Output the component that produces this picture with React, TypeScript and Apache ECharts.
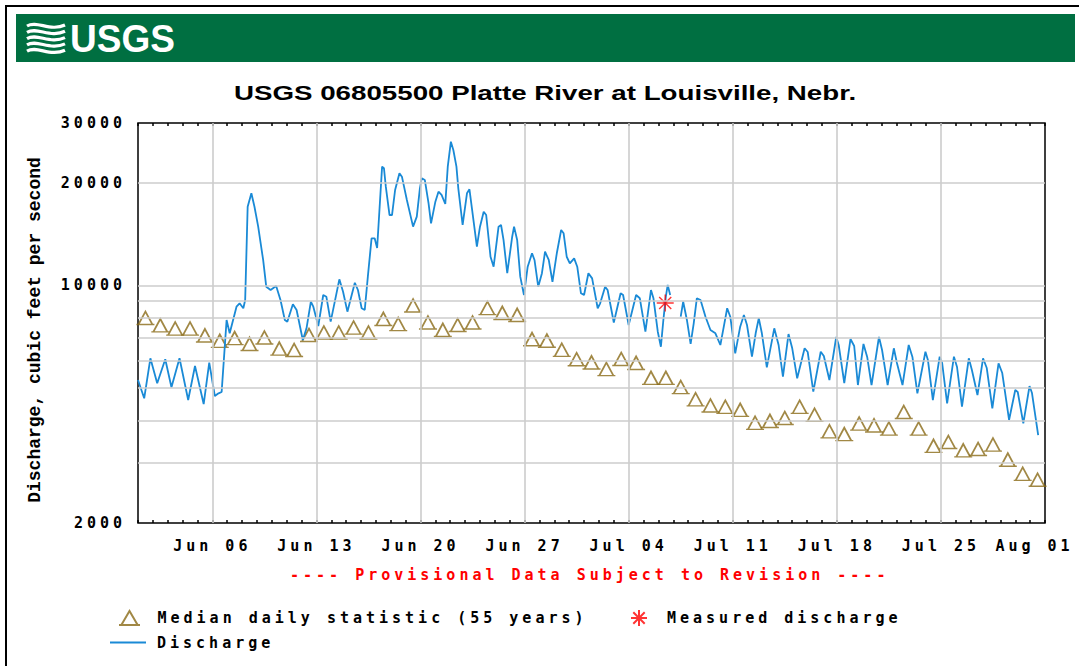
import React, { useEffect, useRef } from 'react';
import * as echarts from 'echarts';

// ---------- data ----------
const titleText = 'USGS 06805500 Platte River at Louisville, Nebr.';
const yAxisTitle = 'Discharge, cubic feet per second';
const provisionalText = '---- Provisional Data Subject to Revision ----';
const yTickLabels = [2000, 10000, 20000, 30000];
const yGridValues = [3000, 4000, 5000, 6000, 7000, 8000, 9000, 10000, 20000];
const weekLabelDays = [5, 12, 19, 26, 33, 40, 47, 54, 61]; // days after Jun 01

// Median daily statistic (55 years), one value per day, Jun 01 .. Jul 31
const medianValues = [
  8010, 7620, 7460, 7460, 7120, 6860, 6990, 6720, 7020, 6510,
  6450, 7140, 7260, 7260, 7510, 7260, 7960, 7690, 8720, 7770,
  7390, 7640, 7770, 8570, 8290, 8180, 6940, 6870, 6460, 6060,
  5930, 5670, 6070, 5910, 5340, 5340, 5020, 4620, 4430, 4390,
  4300, 3940, 3990, 4070, 4390, 4160, 3720, 3650, 3920, 3870,
  3790, 4240, 3790, 3370, 3460, 3270, 3300, 3400, 3070, 2790, 2680,
];

// Measured discharge
const measuredTime = '07-06 11:00';
const measuredValue = 8870;

// Discharge (instantaneous), MM-DD hh:mm
const dischargeTimes = [
  '06-01 00:00', '06-01 10:00', '06-01 20:00', '06-02 07:00', '06-02 20:00', '06-03 06:00', '06-03 19:00', '06-04 09:00',
  '06-04 20:00', '06-05 10:00', '06-05 19:00', '06-06 04:00', '06-06 10:00', '06-06 15:00', '06-06 23:00', '06-07 04:00',
  '06-07 15:00', '06-07 20:00', '06-08 02:00', '06-08 05:00', '06-08 09:00', '06-08 15:00', '06-08 20:00', '06-09 02:00',
  '06-09 10:00', '06-09 15:00', '06-09 22:00', '06-10 07:00', '06-10 14:00', '06-10 21:00', '06-11 01:00', '06-11 10:00',
  '06-11 16:00', '06-12 02:00', '06-12 08:00', '06-12 15:00', '06-12 19:00', '06-13 03:00', '06-13 11:00', '06-13 16:00',
  '06-13 23:00', '06-14 13:00', '06-14 19:00', '06-15 02:00', '06-15 14:00', '06-15 19:00', '06-16 01:00', '06-16 06:00',
  '06-16 11:00', '06-16 17:00', '06-16 22:00', '06-17 02:00', '06-17 10:00', '06-17 13:00', '06-17 16:00', '06-17 22:00',
  '06-18 02:00', '06-18 07:00', '06-18 14:00', '06-18 18:00', '06-19 02:00', '06-19 12:00', '06-19 18:00', '06-19 23:00',
  '06-20 02:00', '06-20 07:00', '06-20 13:00', '06-20 17:00', '06-21 00:00', '06-21 05:00', '06-21 10:00', '06-21 16:00',
  '06-21 20:00', '06-22 01:00', '06-22 05:00', '06-22 10:00', '06-22 13:00', '06-22 20:00', '06-23 03:00', '06-23 07:00',
  '06-23 11:00', '06-23 19:00', '06-24 00:00', '06-24 06:00', '06-24 10:00', '06-24 17:00', '06-24 22:00', '06-25 06:00',
  '06-25 10:00', '06-25 14:00', '06-25 20:00', '06-26 04:00', '06-26 07:00', '06-26 12:00', '06-26 17:00', '06-26 23:00',
  '06-27 05:00', '06-27 12:00', '06-27 16:00', '06-27 22:00', '06-28 04:00', '06-28 09:00', '06-28 15:00', '06-28 21:00',
  '06-29 04:00', '06-29 11:00', '06-29 15:00', '06-29 20:00', '06-30 01:00', '06-30 08:00', '06-30 13:00', '06-30 19:00',
  '07-01 00:00', '07-01 07:00', '07-01 13:00', '07-01 22:00', '07-02 02:00', '07-02 10:00', '07-02 14:00', '07-03 00:00',
  '07-03 11:00', '07-03 15:00', '07-04 00:00', '07-04 12:00', '07-04 18:00', '07-05 03:00', '07-05 12:00', '07-05 16:00',
  '07-05 23:00', '07-06 04:00', '07-06 08:00', '07-06 12:00', '07-06 15:00', '07-06 19:00', '07-07 02:00', '07-07 12:00',
  '07-07 16:00', '07-07 22:00', '07-08 04:00', '07-08 09:00', '07-08 14:00', '07-08 20:00', '07-09 04:00', '07-09 12:00',
  '07-09 20:00', '07-10 04:00', '07-10 09:00', '07-10 15:00', '07-10 20:00', '07-11 04:00', '07-11 12:00', '07-11 18:00',
  '07-11 23:00', '07-12 07:00', '07-12 13:00', '07-12 18:00', '07-12 23:00', '07-13 07:00', '07-13 19:00', '07-14 02:00',
  '07-14 09:00', '07-14 18:00', '07-15 00:00', '07-15 08:00', '07-15 20:00', '07-16 01:00', '07-16 10:00', '07-16 22:00',
  '07-17 03:00', '07-17 12:00', '07-17 23:00', '07-18 03:00', '07-18 12:00', '07-18 22:00', '07-19 04:00', '07-19 10:00',
  '07-19 19:00', '07-20 01:00', '07-20 08:00', '07-20 20:00', '07-21 01:00', '07-21 10:00', '07-21 20:00', '07-22 01:00',
  '07-22 10:00', '07-22 20:00', '07-23 02:00', '07-23 10:00', '07-23 23:00', '07-24 03:00', '07-24 11:00', '07-24 22:00',
  '07-25 02:00', '07-25 10:00', '07-25 21:00', '07-26 02:00', '07-26 10:00', '07-26 21:00', '07-27 02:00', '07-27 11:00',
  '07-27 20:00', '07-28 02:00', '07-28 11:00', '07-28 21:00', '07-29 03:00', '07-29 14:00', '07-30 00:00', '07-30 04:00',
  '07-30 13:00', '07-30 23:00', '07-31 03:00', '07-31 09:00', '07-31 13:00',
];
const dischargeValues: (number | null)[] = [
  5265, 4652, 6100, 5149, 6058, 5012, 6100, 4598,
  5789, 4476, 5920, 4725, 4812, 4856, 7906, 7224,
  8650, 8851, 8558, 9050, 17020, 18640, 17020, 14870,
  11870, 9904, 9685, 9950, 9050, 7906, 7815, 8790,
  8460, 6905, 7472, 8946, 8650, 7590, 9363, 9255,
  7815, 10410, 9575, 8363, 10170, 9685, 8558, 8460,
  10600, 13740, 13740, 12870, 22320, 22080, 19490, 16090,
  16090, 19060, 21340, 20860, 17810, 14870, 15910, 19280,
  20630, 20390, 17420, 15210, 17610, 18840, 18430, 17340,
  22320, 26430, 24990, 22320, 19280, 15040, 18640, 19150,
  16840, 12990, 14870, 16450, 16090, 12130, 11340, 14870,
  15040, 13590, 10850, 13890, 14870, 13590, 10600, 9363,
  11340, 12420, 11870, 9904, 10850, 12550, 11870, 10240,
  12420, 14540, 14220, 12130, 11600, 12000, 11340, 9471,
  9363, 10850, 10480, 8558, 8851, 9904, 9685, 7772,
  9471, 9363, 7642, 9363, 9156, 7303, 9685, 9156,
  7303, 6598, 7906, 9255, 10020, 9363, null, 8083,
  8946, 7906, 6720, 7730, 9156, 9050, 8083, 7388,
  7224, 6674, 7472, 8558, 8083, 6308, 7555, 8177,
  7642, 6165, 7224, 7998, 7224, 5739, 7472, 6674,
  5385, 7189, 6527, 5327, 6527, 6365, 4866, 6377,
  6194, 5265, 7046, 6674, 5160, 6950, 6628, 5090,
  6720, 6154, 5090, 7046, 6452, 5090, 6527, 5908,
  5090, 6674, 6154, 4812, 6377, 6031, 4598, 6165,
  5908, 4497, 6165, 5751, 4395, 6100, 5634, 4757,
  6100, 5711, 4348, 5896, 5521, 4017, 4920, 4856,
  3928, 5055, 4822, 4064, 3628,
];

// ---------- helpers ----------
const MONTHS = ['Jan', 'Feb', 'Mar', 'Apr', 'May', 'Jun', 'Jul', 'Aug', 'Sep', 'Oct', 'Nov', 'Dec'];
function dayOffset(t: string): number {
  const [md, hm] = t.split(' ');
  const [m, d] = md.split('-').map(Number);
  const [hh, mm] = (hm || '00:00').split(':').map(Number);
  const base = m === 6 ? 0 : m === 7 ? 30 : 61;
  return base + (d - 1) + (hh + mm / 60) / 24;
}
function dayLabel(v: number): string {
  const r = Math.round(v);
  if (weekLabelDays.indexOf(r) < 0) return '';
  const dt = new Date(Date.UTC(2010, 5, 1 + r));
  const s = MONTHS[dt.getUTCMonth()] + ' ' + String(dt.getUTCDate()).padStart(2, '0');
  // the last label sits at the right edge: keep it inside the picture
  return r === weekLabelDays[weekLabelDays.length - 1] ? '{e|' + s + '}' : s;
}

const MONO = 'DejaVu Sans Mono';
const TRI = 'path://M2,12L9,0L16,12ZM0,12L18,12';
const STAR = 'path://M8,0L8,16M0,8L16,8M2.3,2.3L13.7,13.7M13.7,2.3L2.3,13.7';
const BROWN = '#8a6a16';
const BLUE = '#1a8ad6';

export default function App() {
  const ref = useRef<HTMLDivElement>(null);
  useEffect(() => {
    if (!ref.current) return;
    const chart = echarts.init(ref.current, null, { renderer: 'svg' });
    const dischargeData = dischargeTimes.map((t, i) => [dayOffset(t), dischargeValues[i]]);
    const medianData = medianValues.map((v, i) => [i + 0.5, v]);
    const measuredData = [[dayOffset(measuredTime), measuredValue]];
    const textStyle = { fontFamily: MONO, fontWeight: 'bold' as const, fontSize: 15, color: '#000' };

    const logoCurves = [0, 1, 2, 3, 4].map((i) => {
      const y0 = 26 + i * 6.3;
      return {
        type: 'bezierCurve',
        shape: { x1: 27, y1: y0, cpx1: 37, cpy1: y0 - 6, cpx2: 50, cpy2: y0 + 6, x2: 65, y2: y0 - 1 },
        style: { stroke: '#fff', lineWidth: 3.2, fill: null },
      };
    });

    chart.setOption({
      animation: false,
      backgroundColor: '#ffffff',
      grid: { left: 138, top: 123, width: 907, height: 400, show: true, borderColor: '#000', borderWidth: 1.5, backgroundColor: 'transparent' },
      xAxis: [
        {
          type: 'value', min: 0, max: 61, interval: 1, position: 'bottom',
          axisLine: { show: false },
          axisTick: { show: true, inside: true, length: 3, lineStyle: { color: '#000', width: 1.5 } },
          axisLabel: {
            show: true, margin: 15, ...textStyle, formatter: (v: number) => dayLabel(v),
            rich: { e: { ...textStyle, padding: [0, 21, 0, 0] } },
          },
          splitLine: { show: false },
        },
        {
          type: 'value', min: 0, max: 61, interval: 1, position: 'top',
          axisLine: { show: false },
          axisTick: { show: true, inside: true, length: 3, lineStyle: { color: '#000', width: 1.5 } },
          axisLabel: { show: false },
          splitLine: { show: false },
        },
      ],
      yAxis: {
        type: 'log', logBase: 10, min: 2000, max: 30000,
        axisLine: { show: false }, axisTick: { show: false }, splitLine: { show: false },
        axisLabel: { show: true, margin: 12, ...textStyle, customValues: yTickLabels, formatter: (v: number) => String(Math.round(v)) },
      },
      legend: [
        {
          data: ['Median daily statistic (55 years)'], left: 118, top: 610, padding: 0,
          itemWidth: 22, itemHeight: 14, selectedMode: false,
          textStyle: { ...textStyle, padding: [0, 0, 0, 12] },
        },
        {
          data: ['Measured discharge'], left: 630, top: 609, padding: 0,
          itemWidth: 18, itemHeight: 16, selectedMode: false,
          textStyle: { ...textStyle, padding: [0, 0, 0, 14] },
        },
        {
          data: [{ name: 'Discharge', icon: 'rect' }], left: 110, top: 635, padding: 0,
          itemWidth: 36, itemHeight: 2, selectedMode: false,
          itemStyle: { color: BLUE, borderWidth: 0 },
          textStyle: { ...textStyle, padding: [0, 0, 0, 6] },
        },
      ],
      series: [
        {
          name: 'grid', type: 'line', data: [], z: 1, silent: true,
          markLine: {
            silent: true, symbol: ['none', 'none'], label: { show: false },
            lineStyle: { color: '#cccccc', width: 1.6, type: 'solid' },
            emphasis: { disabled: true },
            data: [
              ...weekLabelDays.slice(0, -1).map((d) => ({ xAxis: d })),
              ...yGridValues.map((v) => ({ yAxis: v })),
            ],
          },
        },
        {
          name: 'Median daily statistic (55 years)', type: 'scatter', z: 2,
          symbol: TRI, symbolSize: [18, 13],
          itemStyle: { color: 'rgba(255,255,255,0)', borderColor: BROWN, borderWidth: 1.6 },
          data: medianData,
        },
        {
          name: 'Discharge', type: 'line', z: 3, symbol: 'none', showSymbol: false, connectNulls: false,
          lineStyle: { color: BLUE, width: 1.8 }, itemStyle: { color: BLUE },
          data: dischargeData,
        },
        {
          name: 'Measured discharge', type: 'scatter', z: 4,
          symbol: STAR, symbolSize: 17,
          itemStyle: { color: 'rgba(255,0,0,0)', borderColor: '#ff0000', borderWidth: 1.4 },
          data: measuredData,
        },
      ],
      graphic: [
        { type: 'rect', shape: { x: 6, y: 6, width: 1100, height: 700 }, style: { fill: null, stroke: '#000', lineWidth: 2 }, z: 0 },
        { type: 'rect', shape: { x: 16, y: 14, width: 1059, height: 48 }, style: { fill: '#006f41' }, z: 0 },
        ...logoCurves,
        { type: 'text', x: 70, y: 39, scaleX: 0.95, style: { text: 'USGS', font: 'bold 39px "Liberation Sans"', fill: '#fff', align: 'left', verticalAlign: 'middle' } },
        { type: 'text', x: 234, y: 92.5, scaleX: 1.32, style: { text: titleText, font: 'bold 21px "Liberation Sans"', fill: '#000', align: 'left', verticalAlign: 'middle' } },
        { type: 'text', x: 35, y: 330, rotation: Math.PI / 2, style: { text: yAxisTitle, font: 'bold 18px "Liberation Mono"', fill: '#000', align: 'center', verticalAlign: 'middle' } },
        { type: 'text', x: 290, y: 575, style: { text: provisionalText, font: 'bold 15px "DejaVu Sans Mono"', fill: '#ff0000', align: 'left', verticalAlign: 'middle' } },
      ],
    });
    return () => chart.dispose();
  }, []);
  return (
    <>
      <style>{`.usgs-chart text[style*="DejaVu Sans Mono"]{letter-spacing:4px}`}</style>
      <div className="usgs-chart" ref={ref} style={{ position: 'absolute', left: 0, top: 0, width: 1079, height: 666 }} />
    </>
  );
}
